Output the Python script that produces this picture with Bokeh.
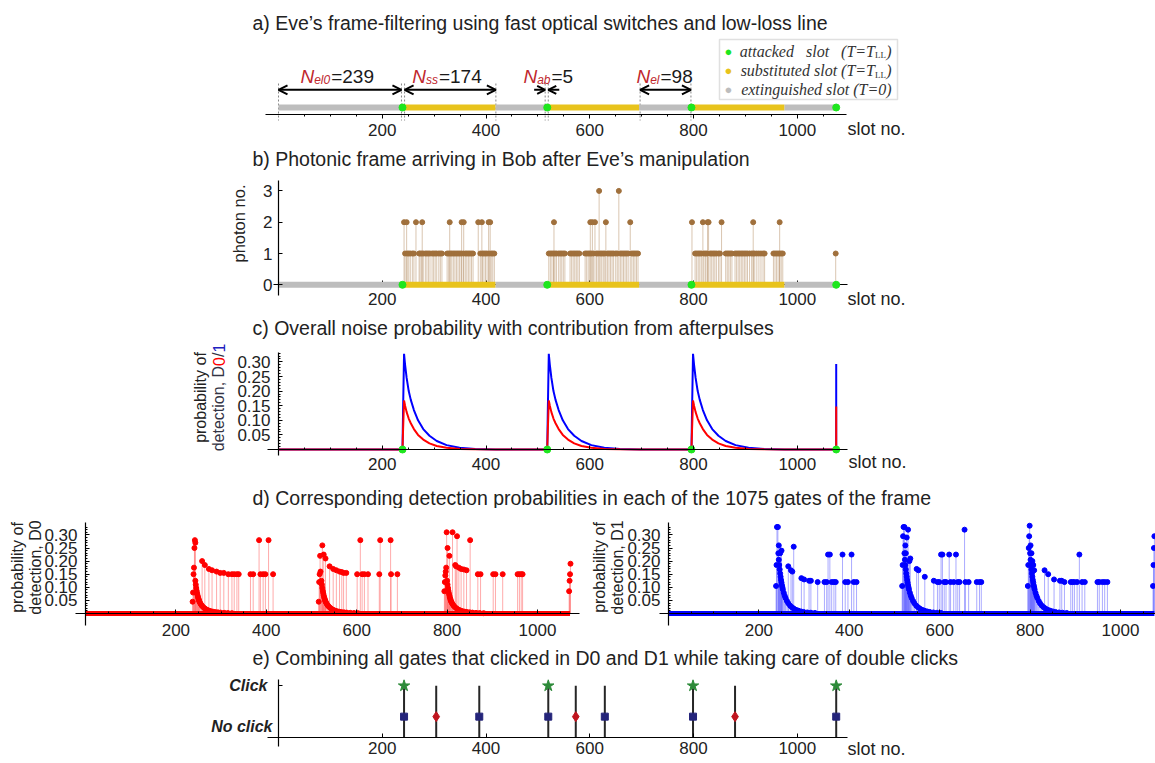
import math
from bokeh.plotting import figure
from bokeh.models import (Range1d, LinearAxis, FixedTicker, Label, Arrow, OpenHead,
                          BoxAnnotation, NumeralTickFormatter)
from bokeh.layouts import column, row
from bokeh.embed import file_html
from bokeh.resources import INLINE

# ======================= DATA =======================
# panel a / b : frame structure (slot numbers)
attacked_slots = [239, 518, 796, 1075]
substituted_start = [241, 520, 798]
substituted_end = [418, 695, 975]
extinguished_start = [0, 418, 695, 975]
extinguished_end = [241, 520, 798, 1075]
boundary_slots = [0, 237, 243, 419, 514, 520, 697, 795]
n_subscripts = ["el0", "ss", "ab", "el"]
n_values = ["=239", "=174", "=5", "=98"]
span_el0 = [0, 237]
span_ss = [243, 419]
span_ab = [514, 520]
span_el = [697, 795]
x_major_ticks = [200, 400, 600, 800, 1000]
x_minor_ticks = [50, 100, 150, 250, 300, 350, 450, 500, 550, 650, 700, 750,
                 850, 900, 950, 1050]

# panel b : photon numbers
one_photon_slots = [244, 248, 251, 254, 258, 261, 271, 273, 276, 279, 283, 286, 289, 292,
                    296, 299, 302, 305, 309, 312, 315, 325, 328, 331, 334, 337, 340, 343,
                    346, 349, 352, 356, 360, 363, 366, 369, 372, 375, 389, 393, 396, 399,
                    402, 406, 410, 413, 416,
                    521, 524, 527, 530, 533, 536, 540, 543, 546, 549, 552, 562, 565, 568,
                    571, 574, 577, 580, 591, 594, 597, 600, 603, 607, 613, 616, 620, 623,
                    626, 629, 634, 637, 640, 643, 646, 650, 653, 659, 662, 665, 668, 671,
                    674, 681, 684, 687, 690, 693,
                    803, 806, 809, 812, 815, 820, 823, 826, 832, 835, 838, 841, 844, 848,
                    851, 862, 865, 868, 871, 874, 880, 883, 886, 889, 892, 895, 898, 901,
                    904, 908, 912, 915, 918, 922, 926, 930, 934, 937, 954, 957, 960, 963,
                    966, 969, 972, 1074]
two_photon_slots = [242, 247, 265, 277, 330, 353, 357, 385, 392, 405, 408,
                    531, 601, 605, 610, 631, 678,
                    797, 818, 827, 829, 854, 915, 966]
three_photon_slots = [618, 656]
photon_ticks = [0, 1, 2, 3]

# panel c : noise probability after each attacked slot
noise_offsets = [0, 1, 3, 5, 8, 12, 16, 22, 30, 40, 52, 66, 85, 110, 140, 180]
noise_d1 = [0.0, 0.12, 0.328, 0.29, 0.245, 0.2, 0.17, 0.135, 0.1, 0.07, 0.047, 0.029,
            0.015, 0.006, 0.002, 0.0]
noise_d0 = [0.0, 0.06, 0.168, 0.15, 0.128, 0.106, 0.09, 0.07, 0.05, 0.034, 0.021, 0.012,
            0.006, 0.002, 0.0005, 0.0]
frame_end_d1 = 0.293
frame_end_d0 = 0.147
prob_ticks = [0.05, 0.10, 0.15, 0.20, 0.25, 0.30]
prob_minor = [0.01, 0.02, 0.03, 0.04, 0.06, 0.07, 0.08, 0.09, 0.11, 0.12, 0.13, 0.14,
              0.16, 0.17, 0.18, 0.19, 0.21, 0.22, 0.23, 0.24, 0.26, 0.27, 0.28, 0.29,
              0.31, 0.32, 0.33]

# panel d : detection probabilities per gate
decay_offsets = [4, 5, 6, 7, 8, 9, 10, 11, 12, 13, 14, 16, 18, 20, 23, 26, 30, 34, 38, 43,
                 48, 54, 60, 68, 76, 85]
d0_decay = [0.125, 0.11, 0.097, 0.086, 0.077, 0.069, 0.062, 0.056, 0.051, 0.046, 0.042,
            0.036, 0.031, 0.027, 0.022, 0.018, 0.014, 0.011, 0.009, 0.007, 0.0055, 0.0043,
            0.0034, 0.0025, 0.0018, 0.0012]
d1_decay = [0.23, 0.205, 0.185, 0.168, 0.153, 0.14, 0.128, 0.118, 0.108, 0.1, 0.092,
            0.079, 0.068, 0.059, 0.048, 0.039, 0.03, 0.024, 0.019, 0.014, 0.011, 0.008,
            0.006, 0.004, 0.003, 0.002]
d0_zero_span = [0, 1072]
d1_zero_span = [0, 1075]
d0_event_slots = [237, 238, 239, 240, 241, 242, 243,
                  258, 264, 273, 280, 290, 298, 306, 316, 324, 329, 335, 339, 365, 371, 384,
                  387, 393, 398, 405, 415,
                  516, 517, 518, 519, 520,
                  524, 527, 531, 540, 548, 555, 562, 567, 571, 577, 601, 608, 612, 617, 625,
                  650, 652, 675, 676, 690,
                  794, 795, 796, 797, 798, 799,
                  801, 805, 812, 818, 820, 822, 826, 831, 837, 843, 851, 868, 874, 902, 907,
                  923, 956, 960, 964, 967,
                  1070, 1071, 1072, 1073]
d0_event_vals = [0.045, 0.08, 0.15, 0.175, 0.25, 0.28, 0.27,
                 0.20, 0.185, 0.17, 0.165, 0.16, 0.155, 0.155, 0.15, 0.15, 0.15, 0.15, 0.15,
                 0.15, 0.15, 0.28, 0.15, 0.15, 0.15, 0.28, 0.15,
                 0.045, 0.12, 0.15, 0.22, 0.16,
                 0.26, 0.225, 0.21, 0.18, 0.17, 0.165, 0.16, 0.158, 0.155, 0.155, 0.15, 0.28,
                 0.15, 0.15, 0.15, 0.15, 0.28, 0.28, 0.15, 0.15,
                 0.085, 0.12, 0.145, 0.16, 0.175, 0.31,
                 0.25, 0.22, 0.31, 0.185, 0.18, 0.295, 0.175, 0.17, 0.168, 0.165, 0.28, 0.15,
                 0.15, 0.15, 0.15, 0.15, 0.15, 0.15, 0.15, 0.15,
                 0.085, 0.125, 0.15, 0.19]
d1_event_slots = [238, 239, 240, 242, 244, 247, 250,
                  265, 271, 274, 277, 294, 300, 311, 315, 330, 345, 350, 353, 357, 361, 366,
                  370, 385, 391, 397, 405, 410, 416,
                  517, 518, 519, 520, 522, 524, 525, 527, 530, 533, 535,
                  549, 553, 567, 587, 595, 599, 603, 606, 610, 614, 621, 624, 631, 636, 640,
                  644, 655, 657, 664, 682, 688, 692,
                  795, 796, 797, 798, 799, 801, 803, 805, 807, 809,
                  832, 840, 853, 866, 870, 876, 890, 894, 898, 904, 909, 915, 921, 949, 953,
                  960, 965, 971,
                  1072, 1073, 1074, 1075]
d1_event_vals = [0.105, 0.185, 0.33, 0.33, 0.26, 0.23, 0.24,
                 0.18, 0.165, 0.16, 0.255, 0.135, 0.13, 0.125, 0.125, 0.12, 0.12, 0.12,
                 0.225, 0.225, 0.12, 0.12, 0.12, 0.225, 0.12, 0.12, 0.225, 0.12, 0.12,
                 0.105, 0.185, 0.295, 0.33, 0.33, 0.26, 0.23, 0.29, 0.32, 0.2, 0.21,
                 0.17, 0.165, 0.14, 0.125, 0.12, 0.12, 0.225, 0.225, 0.12, 0.12, 0.225, 0.12,
                 0.12, 0.225, 0.12, 0.12, 0.32, 0.12, 0.12, 0.12, 0.12, 0.12,
                 0.105, 0.185, 0.25, 0.295, 0.335, 0.26, 0.23, 0.2, 0.185, 0.165,
                 0.165, 0.15, 0.13, 0.125, 0.125, 0.12, 0.12, 0.12, 0.12, 0.12, 0.225, 0.12,
                 0.12, 0.12, 0.12, 0.12, 0.12, 0.12,
                 0.105, 0.185, 0.25, 0.295]

# panel e : combined clicks
d1_click_slots = [242, 387, 520, 629, 799, 1075]
d0_click_slots = [304, 573, 880]
double_click_slots = [242, 520, 799, 1075]
click_level = 1.0
outcome_level = 0.4

# ======================= STYLE / LAYOUT =======================
FONT = "Liberation Sans"
SERIF = "Liberation Serif"
TXT = "#222222"
GRAY = "#BDBDBD"
YELLOW = "#E8C31C"
GREEN = "#1EE61E"
BROWN = "#A0703C"
NRED = "#C0272D"
RED = "#FF0000"
BLUE = "#0000FF"
TITLE_SIZE = "19.5px"

W = 1155            # canvas width (page starts at x = 0)
K = 0.5188          # px per slot (panels a,b,c,e)
X0 = 278            # x of slot 0
SHIFT_E = 4         # small upward shift of panel e so its tick labels stay visible


def sx(px):
    return (px - X0) / K


def base_fig(w, h, xr, yr):
    p = figure(width=w, height=h, x_range=Range1d(*xr), y_range=Range1d(*yr),
               output_backend="svg", toolbar_location=None,
               x_axis_location=None, y_axis_location=None,
               min_border=0, min_border_left=0, min_border_right=0,
               min_border_top=0, min_border_bottom=0)
    p.outline_line_color = None
    p.background_fill_color = "white"
    p.border_fill_color = "white"
    p.grid.visible = False
    return p


def style_axis(ax, tin, tout, standoff, minor_in=0, minor_out=0):
    ax.axis_line_color = "black"
    ax.axis_line_width = 1.2
    ax.major_tick_line_color = "black"
    ax.minor_tick_line_color = "black"
    ax.major_tick_in = tin
    ax.major_tick_out = tout
    ax.minor_tick_in = minor_in
    ax.minor_tick_out = minor_out
    ax.major_label_standoff = standoff
    ax.major_label_text_font = FONT
    ax.major_label_text_font_size = "17px"
    ax.major_label_text_color = TXT


def add_xaxis(p, loc, bounds, ticks, minor, tin, tout, standoff, mi=0, mo=0):
    ax = LinearAxis(fixed_location=loc, bounds=bounds,
                    ticker=FixedTicker(ticks=ticks, minor_ticks=minor))
    style_axis(ax, tin, tout, standoff, mi, mo)
    p.add_layout(ax, "below")
    return ax


def add_yaxis(p, loc, bounds, ticks, minor, tin, tout, standoff, mi=0, mo=0):
    ax = LinearAxis(fixed_location=loc, bounds=bounds,
                    ticker=FixedTicker(ticks=ticks, minor_ticks=minor))
    style_axis(ax, tin, tout, standoff, mi, mo)
    p.add_layout(ax, "left")
    return ax


def lab(p, x, y, text, size="17px", color=TXT, align="left", baseline="middle",
        style="normal", font=FONT, angle=0.0):
    p.add_layout(Label(x=x, y=y, text=text, text_font=font, text_font_size=size,
                       text_color=color, text_align=align, text_baseline=baseline,
                       text_font_style=style, angle=angle))


ARIAL_W = {' ': 278, ',': 278, '/': 278, '.': 278, 'D': 722, 'a': 556, 'b': 556,
           'c': 500, 'd': 556, 'e': 556, 'f': 278, 'h': 556, 'i': 222, 'l': 222,
           'n': 556, 'o': 556, 'p': 556, 'r': 333, 's': 500, 't': 278, 'y': 500}
for _d in "0123456789":
    ARIAL_W[_d] = 556


def tw(s, size):
    return sum(ARIAL_W.get(c, 556) for c in s) * size / 1000.0


# ======================= PANEL A =======================
def ay(py):
    return 107 - py


pA = base_fig(W, 143, (sx(0), sx(W)), (ay(143), ay(0)))
pA.segment(x0=boundary_slots, y0=ay(83), x1=boundary_slots, y1=ay(120),
           line_color="#888888", line_dash="2 2", line_width=1)
pA.segment(x0=extinguished_start, y0=0, x1=extinguished_end, y1=0,
           line_color=GRAY, line_width=6)
pA.segment(x0=substituted_start, y0=0, x1=substituted_end, y1=0,
           line_color=YELLOW, line_width=6)
pA.scatter(attacked_slots, [0] * len(attacked_slots), size=7, color=GREEN)

arr_y = ay(89.3)
for sp in (span_el0, span_ss, span_el):
    pA.add_layout(Arrow(x_start=sp[0], y_start=arr_y, x_end=sp[1], y_end=arr_y,
                        line_width=2, line_color="black",
                        start=OpenHead(size=9, line_width=2, line_color="black"),
                        end=OpenHead(size=9, line_width=2, line_color="black")))
ab_len = 11 / K
pA.add_layout(Arrow(x_start=span_ab[0] - ab_len, y_start=arr_y, x_end=span_ab[0], y_end=arr_y,
                    line_width=2, line_color="black",
                    end=OpenHead(size=8, line_width=2, line_color="black")))
pA.add_layout(Arrow(x_start=span_ab[1] + ab_len, y_start=arr_y, x_end=span_ab[1], y_end=arr_y,
                    line_width=2, line_color="black",
                    end=OpenHead(size=8, line_width=2, line_color="black")))

n_label_left_px = [300, 411.7, 523, 636]
SUB_W = {"el0": 16.0, "ss": 12.0, "ab": 13.3, "el": 9.3}
for left, sub, val in zip(n_label_left_px, n_subscripts, n_values):
    lab(pA, sx(left), ay(75.7), "N", size="19px", color=NRED, style="italic",
        baseline="alphabetic")
    lab(pA, sx(left + 13.7), ay(79.5), sub, size="12px", color=NRED, style="italic",
        baseline="alphabetic")
    lab(pA, sx(left + 13.7 + SUB_W[sub] + 1), ay(75.7), val, size="19px", color="#1a1a1a",
        baseline="alphabetic")

lab(pA, sx(252), ay(22), "a) Eve\u2019s frame-filtering using fast optical switches and low-loss line",
    size=TITLE_SIZE)

# legend
pA.add_layout(BoxAnnotation(left=sx(719), right=sx(897), top=ay(39), bottom=ay(99),
                            fill_color="white", fill_alpha=1.0,
                            line_color="#999999", line_width=1.5))
leg_rows = [(50.7, GREEN, "attacked\u00a0\u00a0\u00a0slot\u00a0\u00a0\u00a0(T=T", True),
            (70.0, YELLOW, "substituted slot (T=T", True),
            (89.3, GRAY, "extinguished slot (T=0)", False)]
for py, col, txt, has_sub in leg_rows:
    lab(pA, sx(728), ay(py), "\u25CF", size="13px", color=col, align="center")
    if has_sub:
        lab(pA, sx(891), ay(py), ")", size="16px", color="#333333", align="right",
            style="italic", font=SERIF)
        lab(pA, sx(885.5), ay(py + 4), "LL", size="9px", color="#333333", align="right",
            font=SERIF)
        lab(pA, sx(874.5), ay(py), txt, size="16px", color="#333333", align="right",
            style="italic", font=SERIF)
    else:
        lab(pA, sx(891), ay(py), txt, size="16px", color="#333333", align="right",
            style="italic", font=SERIF)

add_xaxis(pA, ay(114.3), (sx(265), sx(846)), x_major_ticks, x_minor_ticks,
          0, 4, 5, 0, 2)
lab(pA, sx(847), ay(128), "slot no.", size="18px")

# ======================= PANEL B =======================
def by(py):
    return (284.3 - py) / 31.3


pB = base_fig(W, 169, (sx(0), sx(W)), (by(312), by(143)))
ph_x = one_photon_slots + two_photon_slots + three_photon_slots
ph_y = [1] * len(one_photon_slots) + [2] * len(two_photon_slots) + [3] * len(three_photon_slots)
pB.segment(x0=ph_x, y0=0, x1=ph_x, y1=ph_y, line_color=BROWN, line_alpha=0.4, line_width=1)
pB.scatter(ph_x, ph_y, size=5, color=BROWN)
pB.segment(x0=extinguished_start, y0=0, x1=extinguished_end, y1=0,
           line_color=GRAY, line_width=6)
pB.segment(x0=substituted_start, y0=0, x1=substituted_end, y1=0,
           line_color=YELLOW, line_width=6)
pB.scatter(attacked_slots, [0] * len(attacked_slots), size=7, color=GREEN)
axb = add_xaxis(pB, 0, (sx(273), sx(847)), x_major_ticks, x_minor_ticks, 4, 0, 8, 2, 0)
axb.level = "underlay"
add_yaxis(pB, 0, (by(295), by(180)), photon_ticks, [], 4, 0, 6)
lab(pB, sx(252), by(158), "b) Photonic frame arriving in Bob after Eve\u2019s manipulation",
    size=TITLE_SIZE)
lab(pB, sx(238), by(223), "photon no.", size="16.5px", align="center", angle=math.pi / 2)
lab(pB, sx(847), by(298), "slot no.", size="18px")

# ======================= PANEL C =======================
def cy(py):
    return (449 - py) / 292


def noise_curve(vals, end_val):
    xs, ys = [0], [0.0]
    for a in attacked_slots[:-1]:
        for o, v in zip(noise_offsets, vals):
            xs.append(a + o)
            ys.append(v)
    xs += [attacked_slots[-1], attacked_slots[-1]]
    ys += [0.0, end_val]
    return xs, ys


pC = base_fig(W, 168, (sx(0), sx(W)), (cy(480), cy(312)))
cx1, cy1 = noise_curve(noise_d1, frame_end_d1)
cx0, cy0 = noise_curve(noise_d0, frame_end_d0)
pC.line(cx1, cy1, line_color=BLUE, line_width=2)
pC.line(cx0, cy0, line_color=RED, line_width=2)
pC.scatter(attacked_slots, [0] * len(attacked_slots), size=7, color=GREEN)
add_xaxis(pC, 0, (sx(267), sx(847)), x_major_ticks, x_minor_ticks, 4, 0, 8, 2, 0)
axc = add_yaxis(pC, 0, (cy(455), cy(351.7)), prob_ticks, prob_minor, 4, 0, 8, 2, 0)
axc.formatter = NumeralTickFormatter(format="0.00")
lab(pC, sx(252), cy(327), "c) Overall noise probability with contribution from afterpulses",
    size=TITLE_SIZE)
lab(pC, sx(200), cy(397), "probability of", size="16px", align="center", angle=math.pi / 2)
pieces = [("detection, D", "#333344"), ("0", RED), ("/", "#333344"), ("1", "#2020C0")]
start_py = 397 + tw("detection, D0/1", 16) / 2
cum = 0.0
for t, col in pieces:
    lab(pC, sx(218), cy(start_py - cum), t, size="16px", color=col, align="left",
        angle=math.pi / 2)
    cum += tw(t, 16)
lab(pC, sx(848), cy(461), "slot no.", size="18px")

# ======================= PANEL D =======================
pDt = base_fig(W, 28, (0, W), (508, 480))
lab(pDt, 252, 497, "d) Corresponding detection probabilities in each of the 1075 gates of the frame",
    size=TITLE_SIZE)


def dy(py):
    return (613 - py) / 262


def dxl(px):
    return (px - 85) / 0.452


def dxr(px):
    return (px - 668) / 0.452


def det_panel(p, axis_start, decay, ev_s, ev_v, zero_span, col, stem_col):
    xs, ys = [], []
    for a in attacked_slots[:-1]:
        for o, v in zip(decay_offsets, decay):
            xs.append(a + o)
            ys.append(v)
    xs += ev_s
    ys += ev_v
    p.segment(x0=xs, y0=0, x1=xs, y1=ys, line_color=stem_col, line_alpha=0.55, line_width=1)
    p.line(zero_span, [0, 0], line_color=col, line_width=5)
    p.scatter(xs, ys, size=5, color=col)
    add_xaxis(p, 0, (axis_start, zero_span[1] + 20),
              x_major_ticks, x_minor_ticks, 4, 0, 10, 2, 0)
    ax = add_yaxis(p, 0, (dy(625), dy(522)), prob_ticks, prob_minor, 4, 0, 8, 2, 0)
    ax.formatter = NumeralTickFormatter(format="0.00")


D_TOP, D_BOT = 508, 642
pDL = base_fig(590, D_BOT - D_TOP, (dxl(0), dxl(590)), (dy(D_BOT), dy(D_TOP)))
det_panel(pDL, dxl(75), d0_decay, d0_event_slots, d0_event_vals, d0_zero_span, RED, "#FF6666")
lab(pDL, dxl(17), dy(567), "probability of", size="16px", align="center", angle=math.pi / 2)
lab(pDL, dxl(35), dy(567), "detection, D0", size="16px", align="center", angle=math.pi / 2)

pDR = base_fig(W - 590, D_BOT - D_TOP, (dxr(590), dxr(W)), (dy(D_BOT), dy(D_TOP)))
det_panel(pDR, dxr(659), d1_decay, d1_event_slots, d1_event_vals, d1_zero_span, BLUE, "#6666FF")
lab(pDR, dxr(599), dy(567), "probability of", size="16px", align="center", angle=math.pi / 2)
lab(pDR, dxr(617), dy(567), "detection, D1", size="16px", align="center", angle=math.pi / 2)

# ======================= PANEL E =======================
def ey(py):
    return (740.7 - py) / 51.4


E_TOP, E_BOT = 642, 762
pE = base_fig(W, E_BOT - E_TOP, (sx(0), sx(W)), (ey(E_BOT + SHIFT_E), ey(E_TOP + SHIFT_E)))
all_events = sorted(set(d1_click_slots + d0_click_slots))
pE.segment(x0=all_events, y0=0, x1=all_events, y1=click_level, line_color="#262626",
           line_width=2)
pE.scatter(d1_click_slots, [outcome_level] * len(d1_click_slots), marker="square", size=7,
           color="#24247A")
pE.scatter(d0_click_slots, [outcome_level] * len(d0_click_slots), marker="diamond", size=10,
           color="#C0141E")
pE.scatter(double_click_slots, [click_level] * len(double_click_slots), marker="star", size=12,
           color="#2E8B3A")
add_xaxis(pE, 0, (sx(267), sx(847)), x_major_ticks, [], 4, 0, 5)
aye = add_yaxis(pE, 0, (ey(750), ey(683)), [click_level], [], 4, 0, 10)
aye.major_label_text_alpha = 0
lab(pE, sx(267), ey(689.3), "Click", size="16px", align="right", style="bold italic")
lab(pE, sx(272), ey(730), "No click", size="16px", align="right", style="bold italic")
lab(pE, sx(252), ey(661),
    "e) Combining all gates that clicked in D0 and D1 while taking care of double clicks",
    size=TITLE_SIZE)
lab(pE, sx(847), ey(752), "slot no.", size="18px")

layout = column(pA, pB, pC, pDt, row(pDL, pDR, spacing=0), pE, spacing=0)
open("out.html", "w").write(file_html(layout, INLINE, title="Eve frame filtering"))
